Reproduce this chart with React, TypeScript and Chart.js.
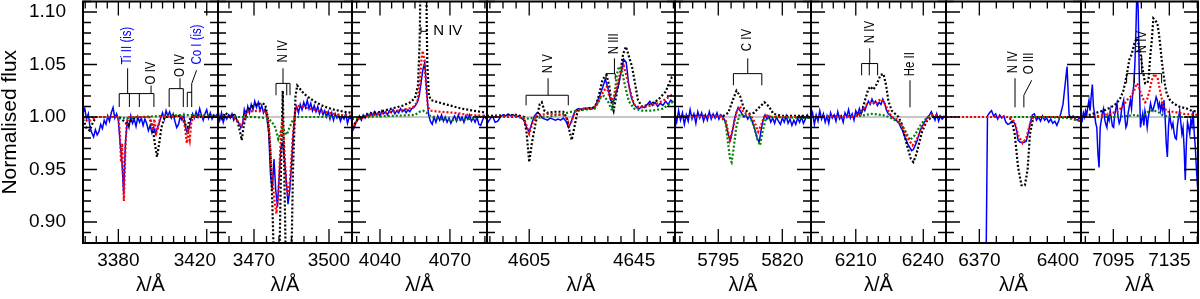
import React, { useEffect, useRef } from "react";
import { Chart, registerables } from "chart.js";
Chart.register(...registerables);

type P = [number, number][];

// ---------- axes ----------
const panelRanges: [number, number][] = [
  [3364.0, 3425.1], [3455.6, 3509.2], [4028.0, 4085.9], [4588.9, 4660.6],
  [5778.1, 5831.2], [6190.1, 6250.1], [6360.2, 6399.9], [7071.9, 7155.5],
];
const majorTicks: number[][] = [
  [3380, 3420], [3470, 3500], [4040, 4070], [4605, 4645],
  [5795, 5820], [6210, 6240], [6370, 6400], [7095, 7135],
];
const minorStep = [5, 5, 5, 5, 5, 5, 5, 10];
const yTickLabels = [0.9, 0.95, 1.0, 1.05, 1.1];
const Y_MIN = 0.88;
const Y_MAX = 1.11;

// ---------- observed spectrum (blue), regular wavelength grids ----------
const blueStart = [3364.0, 3455.6, 4028.0, 4589.0, 5778.0, 6190.0, 6371.8, 7072.0];
const blueStep = [0.8, 0.7, 0.8, 1.0, 0.75, 0.8, 0.6, 0.8];
const blue1 = [1.004,1.008,0.998,1.003,0.99,0.985,0.981,0.988,0.983,0.986,0.993,0.989,0.997,0.993,1.001,0.996,1.004,1.009,0.999,1.003,0.997,0.975,0.958,0.927,0.975,0.996,0.99,1.001,0.994,0.998,0.991,1.0,0.995,0.999,0.992,0.998,0.994,0.987,0.992,0.985,0.99,0.984,0.989,0.994,0.999,1.004,0.998,1.006,1.001,1.005,0.999,1.003,0.996,0.99,0.993,1.0,0.997,1.002,0.99,0.985,0.989,0.997,1.003,0.999,1.005,1.0,1.008,1.002,0.997,1.003,1.007,0.999,1.004,0.998,1.002,1.0,1.003];
const blue2 = [1.006,0.997,1.004,0.995,1.001,0.998,1.002,0.999,1.003,0.997,1.001,0.996,0.994,0.99,0.993,1.007,1.0,1.01,1.004,1.012,1.007,1.015,1.009,1.014,1.006,1.011,1.004,1.008,0.998,0.985,0.945,0.93,0.96,0.93,0.915,0.945,0.972,0.975,0.96,0.94,0.917,0.93,0.955,0.985,1.005,1.01,1.004,1.012,1.007,1.014,1.009,1.016,1.008,1.013,1.006,1.011,1.005,1.01,1.003,1.008,1.002,1.006,1.0,1.005,0.998,1.004,0.997,1.003,0.999,1.002,0.996,1.001,0.998,1.003,0.994,1.0,0.998];
const blue3 = [0.986,0.989,0.994,0.998,1.001,0.997,1.002,0.999,1.003,1.0,1.004,1.001,1.005,1.002,1.004,1.001,1.006,1.003,1.005,1.002,1.006,1.004,1.007,1.003,1.006,1.004,1.008,1.005,1.007,1.004,1.007,1.005,1.008,1.009,1.011,1.014,1.02,1.032,1.045,1.052,1.025,1.003,0.996,0.993,1.0,0.995,1.001,0.997,1.002,0.996,1.0,0.995,0.999,0.994,0.998,1.001,0.996,1.002,0.997,1.0,0.995,1.001,0.998,1.002,0.996,0.999,0.995,1.0,0.993,0.992,0.997,1.001,0.998];
const blue4 = [0.994,0.998,1.001,0.995,0.996,1.0,1.002,1.001,1.003,1.001,1.002,1.0,1.001,0.999,0.997,0.99,0.986,0.994,1.001,1.004,1.003,0.999,0.998,0.997,0.999,0.998,0.997,0.998,0.997,0.999,0.996,0.99,0.995,1.003,1.007,1.008,1.007,1.008,1.008,1.009,1.008,1.01,1.015,1.021,1.028,1.036,1.028,1.016,1.014,1.022,1.03,1.042,1.055,1.052,1.03,1.018,1.012,1.009,1.008,1.01,1.009,1.012,1.015,1.011,1.014,1.01,1.013,1.011,1.015,1.012,1.016,1.014];
const blue5 = [1.003,0.995,1.006,0.997,1.004,0.993,1.002,0.996,1.007,0.998,1.003,0.994,1.005,0.999,1.004,0.996,1.002,0.997,1.005,0.998,1.003,0.999,1.004,0.998,1.002,1.0,0.997,0.991,0.982,0.978,0.986,0.997,1.004,1.009,1.006,1.003,1.0,1.002,0.998,1.001,0.997,0.993,0.986,0.979,0.976,0.988,0.997,1.002,0.998,1.001,0.995,0.999,0.994,1.0,0.996,0.993,0.999,0.995,1.001,0.994,0.998,0.992,0.997,0.993,0.999,0.995,1.0,0.994,0.998,1.002,0.999,1.001];
const blue6 = [0.998,1.004,0.993,1.002,0.996,1.006,0.998,1.003,0.995,1.001,0.994,1.004,0.999,1.002,0.996,1.005,0.998,1.001,0.995,1.004,1.0,1.007,0.999,1.003,0.997,1.006,1.002,1.008,1.003,1.009,1.006,1.011,1.015,1.012,1.017,1.013,1.015,1.011,1.014,1.012,1.017,1.013,1.007,1.003,1.002,1.0,0.999,0.997,0.996,0.994,0.99,0.987,0.982,0.978,0.974,0.971,0.968,0.969,0.973,0.977,0.983,0.988,0.991,0.995,0.997,1.0,1.002,1.005,1.001,0.997,1.003,0.996,1.001,0.998,1.0,1.0];
const blue7 = [0.8,1.001,1.004,1.006,1.001,1.003,0.998,1.002,0.999,1.001,0.995,0.993,0.994,0.996,0.995,0.99,0.978,0.976,0.976,0.976,0.977,0.985,0.995,1.002,1.003,0.997,1.0,0.996,1.001,0.997,0.999,0.995,0.998,0.994,0.996,0.992,0.997,1.004,1.012,1.03,1.048,1.002,0.999,1.001,0.998,0.997,0.999,0.998];
const blue8 = [1.0,0.997,1.004,1.0,1.006,1.002,1.01,1.016,1.006,1.02,1.031,1.01,1.003,0.994,0.99,0.965,0.952,0.99,0.997,1.004,1.008,0.998,0.993,0.99,1.001,0.997,1.006,0.998,0.991,0.99,1.002,1.008,1.013,1.0,0.994,0.997,1.006,1.012,1.016,1.0,0.99,0.993,1.004,1.01,1.016,1.008,1.022,1.03,1.05,1.085,1.13,1.1,1.035,0.99,0.997,1.003,0.992,1.006,1.0,0.99,1.0,1.006,1.013,1.008,1.006,1.01,1.014,1.019,1.016,1.009,1.013,1.006,1.012,1.006,1.016,1.0,0.975,0.962,0.99,1.003,0.995,0.99,0.994,0.985,0.98,0.979,0.992,1.0,1.006,0.995,0.984,0.99,0.97,0.94,0.975,0.995,0.99,0.984,0.997,0.992,1.006,0.985,0.971,0.95,0.933];
const blueSeries = [blue1, blue2, blue3, blue4, blue5, blue6, blue7, blue8];

// ---------- models (black, red, green dotted) ----------
const black1: P = [[3364,0.998],[3365.5,0.99],[3367,0.987],[3368.5,0.995],[3370,1.0],[3380,1.0],[3381.5,0.998],[3383,0.995],[3384.5,0.992],[3386,0.998],[3388,1.0],[3394,1.0],[3395.5,0.99],[3396.5,0.975],[3397.5,0.962],[3398.5,0.975],[3399.5,0.99],[3401,1.0],[3408,1.001],[3409.5,0.998],[3410.5,0.992],[3411.3,0.99],[3412,0.996],[3413,1.0],[3425.1,1.0]];
const red1: P = [[3364,1.0],[3366,0.996],[3368,0.997],[3370,1.0],[3380,1.0],[3380.7,0.985],[3381.2,0.957],[3381.7,0.975],[3382.5,0.92],[3383.2,0.97],[3383.8,0.995],[3385,1.0],[3394,1.0],[3395,0.995],[3395.5,0.987],[3396.3,0.998],[3397.2,0.985],[3398,0.99],[3399,1.0],[3409,1.001],[3410.2,0.99],[3411,0.975],[3411.6,0.985],[3412.3,0.978],[3413,0.995],[3414,1.0],[3425.1,1.0]];
const green1: P = [[3364,1.0],[3380,1.0],[3383,0.999],[3390,1.0],[3400,1.001],[3410,1.002],[3425.1,1.001]];

const black2: P = [[3455.6,1.0],[3457,0.998],[3458.5,1.004],[3460,1.001],[3462,1.002],[3463.5,0.995],[3464.5,0.985],[3465.1,0.978],[3465.8,0.99],[3467,1.006],[3469,1.01],[3471,1.012],[3473,1.013],[3474.5,1.012],[3475.5,1.0],[3476.5,0.97],[3477.3,0.92],[3478,0.86],[3479,0.8],[3480,0.84],[3480.8,0.95],[3481.5,1.025],[3482.1,0.95],[3482.8,0.85],[3483.8,0.8],[3484.8,0.84],[3485.6,0.95],[3486.6,1.02],[3487.3,1.03],[3490,1.022],[3494,1.015],[3498,1.01],[3502,1.007],[3506,1.005],[3509.2,1.004]];
const red2: P = [[3455.6,1.0],[3462,1.0],[3463.5,0.996],[3465,0.991],[3466,0.998],[3467,1.005],[3472,1.006],[3475,1.005],[3476,0.99],[3477,0.95],[3478.2,0.92],[3479,0.908],[3479.8,0.93],[3480.8,0.985],[3481.4,1.0],[3482,0.975],[3482.8,0.94],[3483.6,0.924],[3484.4,0.94],[3485.5,0.98],[3486.6,1.008],[3487.3,1.011],[3492,1.008],[3498,1.005],[3504,1.002],[3509.2,1.001]];
const green2: P = [[3455.6,1.0],[3470,1.0],[3475,0.999],[3477,0.996],[3478.5,0.99],[3479.7,0.979],[3480.6,0.985],[3481.5,0.99],[3482.3,0.986],[3483.1,0.983],[3484.2,0.99],[3485.5,0.997],[3487,1.0],[3509.2,1.0]];

const black3: P = [[4028,0.99],[4029,0.993],[4030.5,0.998],[4035,1.003],[4040,1.005],[4045,1.008],[4050,1.011],[4053,1.014],[4055,1.018],[4056.3,1.03],[4057,1.07],[4057.4,1.13],[4059.8,1.13],[4060.3,1.05],[4061,1.02],[4062,1.016],[4065,1.014],[4070,1.011],[4075,1.008],[4080,1.006],[4085.9,1.004]];
const red3: P = [[4028,0.988],[4029,0.992],[4030.5,0.998],[4035,1.001],[4040,1.003],[4045,1.005],[4050,1.007],[4054,1.009],[4056,1.014],[4057,1.03],[4057.8,1.055],[4058.3,1.063],[4059,1.055],[4059.8,1.03],[4060.5,1.01],[4061.5,1.006],[4066,1.005],[4072,1.004],[4078,1.002],[4085.9,1.001]];
const green3: P = [[4028,0.998],[4032,1.0],[4045,1.001],[4055,1.002],[4057,1.005],[4058.5,1.006],[4060,1.004],[4062,1.0],[4066,0.998],[4072,0.997],[4078,0.998],[4082,1.0],[4085.9,1.0]];

const black4: P = [[4588.9,1.001],[4600,1.002],[4603,1.0],[4604,0.985],[4605,0.957],[4606,0.975],[4607.5,0.995],[4609,1.012],[4609.8,1.014],[4610.8,1.006],[4612,1.004],[4615,1.005],[4618,1.005],[4619.5,0.998],[4620.5,0.985],[4621.2,0.978],[4622.2,0.99],[4623.5,1.006],[4626,1.008],[4629,1.008],[4630.5,1.012],[4631.5,1.02],[4633,1.036],[4634.5,1.04],[4635.5,1.03],[4636.5,1.012],[4637.2,1.006],[4638.2,1.02],[4639.6,1.04],[4640.8,1.06],[4641.9,1.067],[4643,1.058],[4644.2,1.048],[4645.5,1.03],[4646.5,1.016],[4648,1.01],[4651,1.012],[4654,1.016],[4657,1.024],[4659.4,1.038],[4660.6,1.04]];
const red4: P = [[4588.9,1.0],[4600,1.001],[4603,0.999],[4604.2,0.99],[4605,0.984],[4606,0.992],[4607.5,1.001],[4612,1.003],[4618,1.002],[4619.5,0.998],[4620.3,0.992],[4621.2,0.996],[4622.5,1.005],[4625,1.008],[4629,1.008],[4630.5,1.01],[4632,1.018],[4633.5,1.025],[4634.6,1.029],[4635.5,1.02],[4636.5,1.016],[4637.7,1.022],[4639,1.035],[4640.3,1.045],[4641,1.049],[4642,1.04],[4643.5,1.025],[4645,1.012],[4647,1.009],[4650,1.01],[4654,1.013],[4657,1.017],[4659.4,1.021],[4660.6,1.02]];
const green4: P = [[4588.9,1.0],[4600,1.0],[4604,0.999],[4605,0.998],[4606,0.999],[4612,1.0],[4618,1.003],[4621,1.005],[4626,1.007],[4630,1.008],[4631.5,1.015],[4632.3,1.019],[4633.5,1.02],[4635,1.015],[4636.6,1.006],[4637.5,1.02],[4638.4,1.04],[4639.2,1.048],[4640.3,1.045],[4641.5,1.03],[4643,1.015],[4645,1.008],[4648,1.006],[4652,1.006],[4656,1.008],[4659.4,1.014],[4660.6,1.012]];

const black5: P = [[5778.1,1.0],[5785,1.001],[5797,1.001],[5798.9,1.004],[5800.5,1.015],[5802.1,1.025],[5803.5,1.02],[5805,1.008],[5807.3,1.003],[5809,1.004],[5810.5,1.008],[5813,1.014],[5814.8,1.01],[5816.5,1.003],[5820,1.001],[5831.2,1.001]];
const red5: P = [[5778.1,1.0],[5796,1.001],[5798,0.996],[5799.5,0.978],[5800.8,0.99],[5802.2,1.005],[5803.4,1.01],[5805,1.004],[5807.5,1.002],[5809.2,0.995],[5810.6,0.986],[5811.8,0.993],[5813.2,1.002],[5816,1.0],[5831.2,1.0]];
const green5: P = [[5778.1,1.0],[5796,1.0],[5797.8,0.995],[5798.8,0.975],[5799.6,0.96],[5800.2,0.957],[5801,0.97],[5802,0.99],[5803.4,1.003],[5805,1.002],[5807.5,1.0],[5809,0.99],[5810.4,0.978],[5811.3,0.973],[5812.2,0.985],[5813.5,0.998],[5816,1.0],[5831.2,0.999]];

const black6: P = [[6190.1,1.0],[6210,1.001],[6212.7,1.005],[6214.1,1.016],[6215.5,1.026],[6216.4,1.029],[6217.8,1.026],[6219.5,1.032],[6221,1.04],[6222.3,1.041],[6223.5,1.03],[6224.5,1.015],[6226,1.006],[6229,1.0],[6230.5,0.993],[6232.5,0.975],[6234.5,0.96],[6235.6,0.957],[6237,0.965],[6239.3,0.985],[6241.5,0.996],[6243.8,1.0],[6250.1,1.0]];
const red6: P = [[6190.1,1.0],[6211,1.001],[6212.7,1.006],[6215,1.012],[6217.1,1.014],[6218.8,1.012],[6220.5,1.016],[6221.6,1.017],[6223,1.012],[6224.5,1.006],[6226,1.0],[6229,0.997],[6231,0.99],[6233,0.98],[6235.2,0.973],[6237,0.978],[6239.3,0.99],[6241.5,0.997],[6243.8,1.002],[6250.1,1.0]];
const green6: P = [[6190.1,1.0],[6212,1.001],[6217,1.003],[6221.6,1.002],[6225,1.0],[6229,0.995],[6231.5,0.989],[6234.1,0.978],[6236,0.982],[6239.3,0.994],[6242,1.0],[6243.8,1.001],[6250.1,1.0]];

const black7: P = [[6360.2,1.0],[6378.5,1.0],[6379.5,0.997],[6380.4,0.984],[6381.4,0.952],[6382.4,0.935],[6383.4,0.935],[6384.2,0.95],[6384.9,0.984],[6385.9,1.0],[6399.9,1.0]];
const red7: P = [[6360.2,1.0],[6379,1.0],[6380.4,0.995],[6381.5,0.982],[6382.7,0.975],[6383.8,0.98],[6384.9,0.993],[6385.9,1.0],[6397,1.0],[6398.7,0.997],[6399.9,0.996]];
const green7: P = [[6360.2,1.0],[6390,1.0],[6396,0.999],[6398.7,0.997],[6399.9,0.996]];

const black8: P = [[7071.9,1.0],[7078,1.002],[7085,1.005],[7088,1.006],[7093,1.009],[7097.5,1.013],[7100,1.018],[7102.2,1.025],[7104.6,1.04],[7106.5,1.055],[7108.2,1.06],[7110,1.07],[7111.8,1.075],[7113,1.07],[7114.1,1.063],[7116,1.045],[7117.7,1.032],[7119,1.032],[7120.1,1.035],[7121.5,1.06],[7122.5,1.073],[7123.6,1.094],[7125,1.092],[7126.5,1.089],[7127.5,1.08],[7128.4,1.07],[7129.5,1.055],[7130.8,1.041],[7132,1.03],[7133.2,1.022],[7135.5,1.016],[7137.9,1.013],[7142,1.01],[7147.5,1.008],[7151,1.006],[7155.5,1.005]];
const red8: P = [[7071.9,1.0],[7085,1.001],[7092,1.003],[7097.5,1.005],[7102,1.01],[7104.6,1.016],[7107,1.019],[7109.5,1.024],[7111.8,1.032],[7113,1.03],[7114.1,1.025],[7116,1.018],[7117.7,1.014],[7119,1.016],[7120.8,1.025],[7122.5,1.035],[7124.4,1.041],[7125.5,1.039],[7126.5,1.038],[7128.4,1.025],[7130.8,1.01],[7133.2,1.005],[7137.9,1.005],[7145,1.003],[7155.5,1.002]];
const green8: P = [[7071.9,1.0],[7095,1.0],[7105,1.001],[7111,1.002],[7115,1.0],[7118,1.003],[7121,1.006],[7124,1.006],[7127,1.005],[7130,1.002],[7135,1.0],[7155.5,1.0]];

const blackSeries = [black1, black2, black3, black4, black5, black6, black7, black8];
const redSeries = [red1, red2, red3, red4, red5, red6, red7, red8];
const greenSeries = [green1, green2, green3, green4, green5, green6, green7, green8];

// ---------- line identifications (wavelength, flux) ----------
type Seg = [number, number, number, number];
type Lbl = { t: string; x: number; y: number; rot: boolean; c: string };
const BL = "#0000ff";
const K = "#000000";
const annSegs: Seg[][] = [
  [[3380.4,1.0223,3396.1,1.0223],[3380.4,1.0223,3380.4,1.0095],[3385.0,1.0223,3385.0,1.0095],[3389.5,1.0223,3389.5,1.0095],[3396.1,1.0223,3396.1,1.0095],[3384.2,1.0223,3384.2,1.0464],[3394.8,1.0223,3394.8,1.030],[3403.0,1.027,3409.4,1.027],[3403.0,1.027,3403.0,1.0095],[3409.4,1.027,3409.4,1.0095],[3407.9,1.027,3407.9,1.0369],[3411.2,1.0235,3413.2,1.0235],[3411.2,1.0235,3411.2,1.0095],[3413.2,1.0318,3413.2,1.0095],[3413.2,1.0318,3415.4,1.0445]],
  [[3481.6,1.0464,3481.6,1.032],[3478.8,1.032,3484.4,1.032],[3478.8,1.032,3478.8,1.0207],[3483.1,1.032,3483.1,1.0207],[3484.4,1.032,3484.4,1.0207]],
  [[4057.6,1.0857,4057.6,1.0794],[4057.6,1.0816,4060.3,1.0816]],
  [[4612.2,1.0369,4612.2,1.0207],[4603.8,1.0207,4619.9,1.0207],[4603.8,1.0207,4603.8,1.0111],[4619.9,1.0207,4619.9,1.0111],[4637.5,1.0559,4637.5,1.0413],[4634.3,1.0413,4637.8,1.0413],[4634.3,1.0413,4634.3,1.0359],[4637.8,1.0413,4637.8,1.0359]],
  [[5806.5,1.0559,5806.5,1.0413],[5800.9,1.0413,5812.0,1.0413],[5800.9,1.0413,5800.9,1.0302],[5812.0,1.0413,5812.0,1.0302]],
  [[6216.2,1.0654,6216.2,1.0509],[6212.6,1.0509,6219.7,1.0509],[6212.6,1.0509,6212.6,1.0397],[6216.0,1.0509,6216.0,1.0397],[6219.7,1.0509,6219.7,1.0397],[6234.1,1.035,6234.1,1.0092]],
  [[6380.5,1.0369,6380.5,1.0092],[6385.4,1.035,6383.1,1.0207],[6383.1,1.0207,6383.1,1.0092]],
  [[7115.3,1.0588,7115.3,1.0413],[7104.5,1.0413,7129.5,1.0413],[7104.5,1.0413,7104.5,1.0321],[7129.5,1.0413,7129.5,1.0321],[7110.0,1.0413,7110.0,1.0321]],
];
const annLabels: Lbl[][] = [
  [{ t: "Ti II (is)", x: 3384.0, y: 1.050, rot: true, c: BL }, { t: "O IV", x: 3394.8, y: 1.031, rot: true, c: K }, { t: "O IV", x: 3408.1, y: 1.038, rot: true, c: K }, { t: "Co I (is)", x: 3415.8, y: 1.050, rot: true, c: BL }],
  [{ t: "N IV", x: 3481.6, y: 1.052, rot: true, c: K }],
  [{ t: "N IV", x: 4062.8, y: 1.0816, rot: false, c: K }],
  [{ t: "N V", x: 4612.2, y: 1.0416, rot: true, c: K }, { t: "N III", x: 4637.2, y: 1.0597, rot: true, c: K }],
  [{ t: "C IV", x: 5806.3, y: 1.0626, rot: true, c: K }],
  [{ t: "N IV", x: 6216.3, y: 1.0702, rot: true, c: K }, { t: "He II", x: 6234.3, y: 1.0388, rot: true, c: K }],
  [{ t: "N IV", x: 6379.9, y: 1.0416, rot: true, c: K }, { t: "O III", x: 6384.6, y: 1.0407, rot: true, c: K }],
  [{ t: "N IV", x: 7115.8, y: 1.0607, rot: true, c: K }],
];

// ---------- layout ----------
const panelEdges = [83, 218, 352, 487, 675, 811, 946, 1081, 1198];
const TOP = 1.5;
const BOTTOM = 243;
const H = 299;
const FONT = '"Liberation Sans", Arial, Helvetica, sans-serif';

const framePlugin = {
  id: "frame",
  afterDatasetsDraw(chart: any) {
    const idx: number = chart.options.plugins.frame.idx;
    const { ctx, chartArea: a } = chart;
    const xs = chart.scales.x;
    const ys = chart.scales.y;
    ctx.save();
    // identifications
    ctx.strokeStyle = "#000";
    ctx.lineWidth = 1;
    for (const s of annSegs[idx]) {
      ctx.beginPath();
      ctx.moveTo(xs.getPixelForValue(s[0]), ys.getPixelForValue(s[1]));
      ctx.lineTo(xs.getPixelForValue(s[2]), ys.getPixelForValue(s[3]));
      ctx.stroke();
    }
    for (const l of annLabels[idx]) {
      const px = xs.getPixelForValue(l.x);
      const py = ys.getPixelForValue(l.y);
      ctx.save();
      ctx.fillStyle = l.c;
      ctx.translate(px, py);
      ctx.textAlign = "left";
      ctx.textBaseline = "middle";
      if (l.rot) {
        ctx.font = "14px " + FONT;
        ctx.rotate(-Math.PI / 2);
        ctx.scale(0.82, 1);
      } else {
        ctx.font = "15px " + FONT;
      }
      ctx.fillText(l.t, 0, 0);
      ctx.restore();
    }
    // x ticks
    ctx.strokeStyle = "#000";
    ctx.lineWidth = 1.3;
    const [mn, mx] = panelRanges[idx];
    const step = minorStep[idx];
    const m0 = majorTicks[idx][0];
    const k0 = Math.ceil((mn - m0) / step);
    const k1 = Math.floor((mx - m0) / step);
    for (let k = k0; k <= k1; k++) {
      const v = m0 + k * step;
      const major = majorTicks[idx].some((t) => Math.abs(t - v) < 1e-6);
      const len = major ? 14 : 7;
      const px = xs.getPixelForValue(v);
      ctx.beginPath();
      ctx.moveTo(px, a.bottom);
      ctx.lineTo(px, a.bottom - len);
      ctx.moveTo(px, a.top);
      ctx.lineTo(px, a.top + len);
      ctx.stroke();
    }
    // y ticks
    for (let k = 88; k <= 111; k++) {
      const py = ys.getPixelForValue(k / 100);
      const len = k % 5 === 0 ? 14 : 8;
      ctx.beginPath();
      ctx.moveTo(a.left, py);
      ctx.lineTo(a.left + len, py);
      ctx.moveTo(a.right, py);
      ctx.lineTo(a.right - len, py);
      ctx.stroke();
    }
    // frame
    ctx.lineWidth = 2;
    ctx.strokeRect(a.left, a.top, a.right - a.left, a.bottom - a.top);
    // tick labels
    ctx.fillStyle = "#000";
    ctx.font = "19px " + FONT;
    ctx.textAlign = "center";
    ctx.textBaseline = "middle";
    for (const t of majorTicks[idx]) {
      const s = String(t);
      const w = ctx.measureText(s).width;
      let cx = xs.getPixelForValue(t);
      cx = Math.min(Math.max(cx, a.left + w / 2 + 2), a.right - w / 2 - 2);
      ctx.fillText(s, cx, 261);
    }
    ctx.font = "20px " + FONT;
    ctx.fillText("λ/Å", (a.left + a.right) / 2, 285);
    if (idx === 0) {
      ctx.font = "19px " + FONT;
      ctx.textAlign = "right";
      for (const v of yTickLabels) ctx.fillText(v.toFixed(2), a.left - 17, ys.getPixelForValue(v));
      ctx.save();
      ctx.translate(10, (a.top + a.bottom) / 2);
      ctx.rotate(-Math.PI / 2);
      ctx.textAlign = "center";
      ctx.font = "21px " + FONT;
      ctx.fillText("Normalised flux", 0, 0);
      ctx.restore();
    }
    ctx.restore();
  },
};

function Panel({ idx }: { idx: number }) {
  const ref = useRef<HTMLCanvasElement>(null);
  const L = panelEdges[idx];
  const R = panelEdges[idx + 1];
  const padL = idx === 0 ? L : 30;
  const padR = idx === 7 ? 2 : 30;
  const width = R - L + padL + padR;

  useEffect(() => {
    const [mn, mx] = panelRanges[idx];
    const bl = blueSeries[idx].map((y, i) => ({ x: blueStart[idx] + blueStep[idx] * i, y }));
    const toXY = (p: P) => p.map(([x, y]) => ({ x, y }));
    const dotted = { borderWidth: 2.2, borderDash: [2, 2], pointRadius: 0, tension: 0, fill: false, clip: 0 };
    const chart = new Chart(ref.current as HTMLCanvasElement, {
      type: "line",
      data: {
        datasets: [
          { label: "red", data: toXY(redSeries[idx]), borderColor: "#ff0000", ...dotted },
          { label: "green", data: toXY(greenSeries[idx]), borderColor: "#008000", ...dotted },
          { label: "black", data: toXY(blackSeries[idx]), borderColor: "#000000", ...dotted },
          { label: "observed", data: bl, borderColor: "#0000ff", borderWidth: 1.5, pointRadius: 0, tension: 0, fill: false, clip: 0 },
          { label: "unity", data: [{ x: mn, y: 1 }, { x: mx, y: 1 }], borderColor: "#b4b4b4", borderWidth: 1.5, pointRadius: 0, fill: false, clip: 0 },
        ],
      } as any,
      options: {
        responsive: false,
        devicePixelRatio: 1,
        animation: false,
        parsing: true,
        layout: { padding: { left: padL, right: padR, top: TOP, bottom: H - BOTTOM } },
        scales: {
          x: { type: "linear", display: false, min: mn, max: mx },
          y: { type: "linear", display: false, min: Y_MIN, max: Y_MAX },
        },
        plugins: {
          legend: { display: false },
          tooltip: { enabled: false },
          frame: { idx },
        } as any,
        events: [],
      } as any,
      plugins: [framePlugin as any],
    });
    return () => chart.destroy();
  }, [idx]);

  return (
    <canvas
      ref={ref}
      width={width}
      height={H}
      style={{ position: "absolute", left: L - padL, top: 0, width, height: H }}
    />
  );
}

export default function App() {
  return (
    <div style={{ position: "absolute", left: 0, top: 0, width: 1200, height: H, background: "#fff", overflow: "hidden" }}>
      {[7, 6, 5, 4, 3, 2, 1, 0].map((i) => (
        <Panel key={i} idx={i} />
      ))}
    </div>
  );
}
